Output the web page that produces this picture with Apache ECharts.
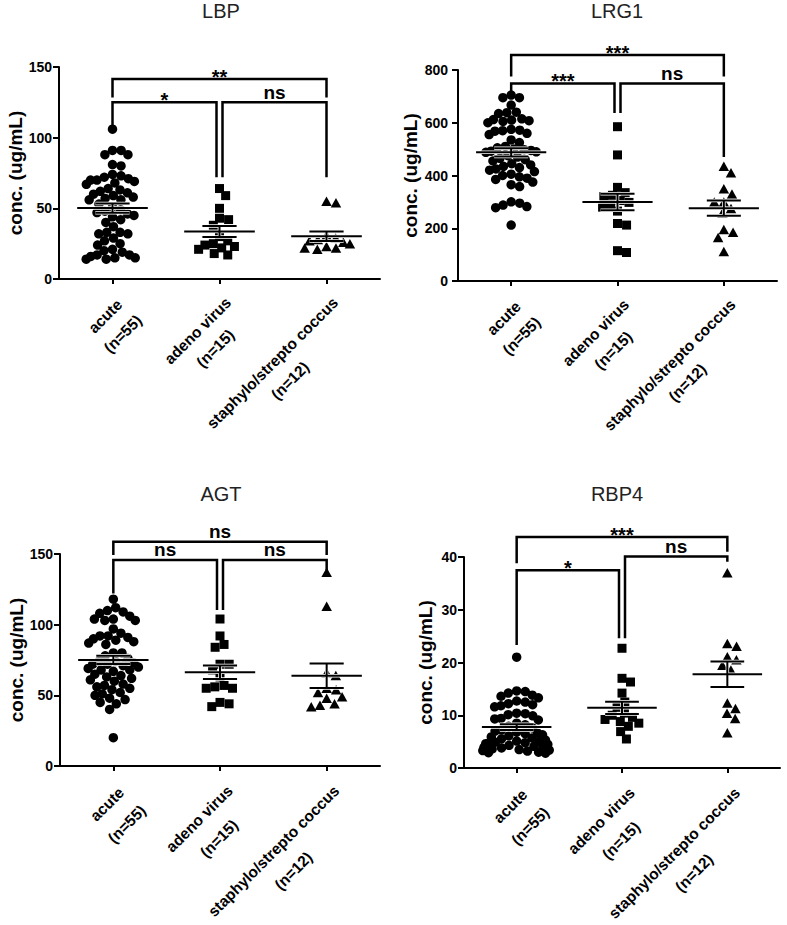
<!DOCTYPE html>
<html><head><meta charset="utf-8">
<script src="https://cdn.jsdelivr.net/npm/echarts@6/dist/echarts.min.js"></script>
<style>html,body{margin:0;padding:0;background:#fff}#c{width:787px;height:925px}</style>
</head><body><div id="c"></div>
<script>
// ---------- data ----------
const categories = ['acute\n(n=55)', 'adeno virus\n(n=15)', 'staphylo/strepto coccus\n(n=12)'];
const panelTitles = ['LBP', 'LRG1', 'AGT', 'RBP4'];
const yAxisName = 'conc. (ug/mL)';
const yMaxes = [150, 800, 150, 40];
const yIntervals = [50, 200, 50, 10];

const lbpAcute = [106, 91, 91, 88, 88, 81, 80, 74, 73, 72, 71, 70, 70, 69, 68, 67, 64, 63, 62, 61, 60, 59, 58, 57, 56, 56, 53, 51, 49, 48, 47, 46, 45, 44, 42, 40, 37, 33, 33, 32, 32, 29, 27, 25, 24, 21, 20, 19, 17, 17, 16, 15, 15, 14, 14];
const lbpAdeno = [64, 59, 50, 43, 42, 38, 30, 27, 25, 24, 23, 22, 21, 18, 17];
const lbpStaph = [55, 54, 31, 29, 28, 27, 26, 25, 23, 22, 22, 21];

const lrg1Acute = [705, 695, 695, 667, 640, 638, 635, 615, 612, 610, 608, 605, 600, 575, 572, 570, 568, 560, 555, 535, 525, 510, 505, 500, 498, 495, 492, 490, 488, 475, 470, 465, 460, 455, 445, 440, 435, 430, 425, 420, 415, 405, 400, 395, 390, 385, 375, 365, 358, 300, 295, 288, 282, 278, 212];
const lrg1Adeno = [585, 478, 355, 335, 325, 320, 305, 298, 290, 280, 265, 218, 212, 115, 108];
const lrg1Staph = [435, 410, 350, 330, 300, 300, 275, 258, 195, 185, 165, 112];

const agtAcute = [118, 112, 110, 109, 108, 106, 104, 103, 103, 104, 97, 94, 92, 91, 90, 88, 89, 92, 87, 86, 80, 80, 78, 76, 74, 72, 74, 73, 72, 71, 70, 69, 68, 67, 68, 65, 64, 63, 62, 61, 58, 56, 54, 52, 50, 51, 55, 57, 48, 47, 45, 44, 40, 20, 60];
const agtAdeno = [104, 92, 86, 84, 72, 72, 68, 63, 57, 55, 55, 56, 45, 42, 44];
const agtStaph = [137, 113, 66, 64, 55, 52, 54, 49, 48, 44, 42, 43];

const rbp4Acute = [21, 14.6, 14.2, 13.8, 13.3, 13.6, 14.5, 12.7, 12.2, 11.8, 11.6, 12.0, 12.5, 10.3, 9.9, 9.4, 9.1, 9.3, 10.1, 10.4, 8.5, 8.2, 7.9, 7.6, 7.2, 7.0, 6.8, 6.6, 6.5, 6.3, 6.1, 5.9, 5.7, 5.5, 5.3, 5.1, 5.0, 4.9, 4.8, 4.7, 4.6, 4.5, 4.3, 4.1, 4.0, 3.9, 3.8, 3.6, 3.5, 3.4, 3.3, 3.2, 3.0, 2.9, 2.8];
const rbp4Adeno = [22.7, 17, 16.3, 14.2, 12.5, 11.5, 10.4, 10.0, 9.6, 9.2, 8.8, 8.5, 7.9, 6.9, 5.5];
const rbp4Staph = [37, 23.6, 23.1, 21.1, 20.5, 19.5, 18.6, 12.3, 11.3, 10.4, 9.4, 6.7];

// significance brackets: [fromCat, toCat, barValue, leftLegEnd, rightLegEnd]
const lbpBrackets = [[0, 2, 141.5, 128.5, 128.5], [0, 1, 125, 109, 72], [1, 2, 125, 72, 72]];
const lbpBracketLabels = ['**', '*', 'ns'];
const lrg1Brackets = [[0, 2, 857, 775, 775], [0, 1, 749, 705, 637], [1, 2, 749, 637, 470]];
const lrg1BracketLabels = ['***', '***', 'ns'];
const agtBrackets = [[0, 2, 158.7, 149.3, 149.3], [0, 1, 145.8, 122, 110.4], [1, 2, 145.8, 110.4, 138.7]];
const agtBracketLabels = ['ns', 'ns', 'ns'];
const rbp4Brackets = [[0, 2, 43.8, 38.8, 41], [0, 1, 37.5, 23.3, 24.6], [1, 2, 40.1, 24.6, 39.1]];
const rbp4BracketLabels = ['***', '*', 'ns'];

// ---------- layout / style ----------
const FONT = '"Liberation Sans", Arial, sans-serif';
const panels = [
  {groups: [lbpAcute, lbpAdeno, lbpStaph], brackets: lbpBrackets, labels: lbpBracketLabels},
  {groups: [lrg1Acute, lrg1Adeno, lrg1Staph], brackets: lrg1Brackets, labels: lrg1BracketLabels},
  {groups: [agtAcute, agtAdeno, agtStaph], brackets: agtBrackets, labels: agtBracketLabels},
  {groups: [rbp4Acute, rbp4Adeno, rbp4Staph], brackets: rbp4Brackets, labels: rbp4BracketLabels}
];
const layouts = [
  {left: 59, top: 67, width: 321, height: 212, tx: 221, ty: 1, nameGap: 30, labMargin: 7},
  {left: 458, top: 70, width: 319, height: 211, tx: 617, ty: 1, nameGap: 38, labMargin: 10},
  {left: 60, top: 554, width: 320, height: 212, tx: 221, ty: 484, nameGap: 30, labMargin: 7},
  {left: 464, top: 557, width: 316, height: 211, tx: 617, ty: 484, nameGap: 29, labMargin: 7}
];
const symbols = ['circle', 'rect', 'triangle'];
const symbolSizes = [9.5, 9, [10.5, 9.5]];
const swarmDist = [8.8, 9.4, 9.8];
const spreadLimit = 36; // px, soft limit for horizontal spread

function mean(a) { return a.reduce((s, v) => s + v, 0) / a.length; }
function sem(a) {
  const m = mean(a);
  const sd = Math.sqrt(a.reduce((s, v) => s + (v - m) * (v - m), 0) / (a.length - 1));
  return sd / Math.sqrt(a.length);
}
// beeswarm horizontal offsets (pixels), computed from values
function swarm(values, pxPerUnit, d) {
  const order = values.map((v, i) => i).sort((a, b) => values[b] - values[a]);
  const placed = [];
  const out = new Array(values.length).fill(0);
  for (const i of order) {
    const y = values[i] * pxPerUnit;
    const cands = [0];
    for (const p of placed) {
      const dy = Math.abs(p.y - y);
      if (dy < d) { const dx = Math.sqrt(d * d - dy * dy); cands.push(p.x + dx, p.x - dx); }
    }
    cands.sort((a, b) => Math.abs(a) - Math.abs(b) || b - a);
    let best = 0;
    for (const c of cands) {
      if (placed.every(p => (p.x - c) * (p.x - c) + (p.y - y) * (p.y - y) >= d * d - 0.01)) { best = c; break; }
    }
    placed.push({x: best, y: y});
    out[i] = best;
  }
  return out.map(o => spreadLimit * Math.tanh(o / spreadLimit));
}

const option = {
  animation: false,
  backgroundColor: '#fff',
  title: [], grid: [], xAxis: [], yAxis: [], series: []
};

panels.forEach((p, k) => {
  const L = layouts[k];
  option.title.push({
    text: panelTitles[k], left: L.tx, top: L.ty, padding: 0, textAlign: 'center',
    textStyle: {fontFamily: FONT, fontSize: 20, fontWeight: 'normal', color: '#222'}
  });
  option.grid.push({left: L.left, top: L.top, width: L.width, height: L.height, containLabel: false, outerBoundsMode: 'none'});
  const axisLineStyle = {color: '#000', width: 2};
  option.xAxis.push({
    type: 'category', gridIndex: k, data: categories, boundaryGap: true,
    axisLine: {show: true, lineStyle: axisLineStyle, onZero: false},
    axisTick: {show: true, alignWithLabel: true, length: 5, lineStyle: {color: '#000', width: 2}},
    axisLabel: {
      interval: 0, rotate: 45, margin: 12, verticalAlign: 'top', color: '#000', hideOverlap: false,
      formatter: v => v.split('\n').map(s => '{a|' + s + '}').join('\n'),
      rich: {a: {align: 'center', fontFamily: FONT, fontSize: 15.5, fontWeight: 'bold', lineHeight: k < 2 ? 25 : 28, color: '#000'}}
    },
    splitLine: {show: false}
  });
  option.xAxis.push({type: 'value', gridIndex: k, min: -0.5, max: 2.5, show: false, splitLine: {show: false}});
  option.yAxis.push({
    type: 'value', gridIndex: k, min: 0, max: yMaxes[k], interval: yIntervals[k],
    name: yAxisName, nameLocation: 'middle', nameGap: L.nameGap,
    nameTextStyle: {fontFamily: FONT, fontSize: 19, fontWeight: 'bold', color: '#000'},
    axisLine: {show: true, onZero: false, lineStyle: axisLineStyle},
    axisTick: {show: true, length: 6, lineStyle: {color: '#000', width: 2}},
    axisLabel: {margin: L.labMargin, fontFamily: FONT, fontSize: 14, fontWeight: 'bold', color: '#000'},
    splitLine: {show: false}
  });
  const pxPerUnit = L.height / yMaxes[k];
  const catPx = L.width / 3;
  p.groups.forEach((vals, g) => {
    const off = swarm(vals, pxPerUnit, swarmDist[g]);
    option.series.push({
      type: 'scatter', xAxisIndex: 2 * k + 1, yAxisIndex: k,
      symbol: symbols[g], symbolSize: symbolSizes[g],
      itemStyle: {color: '#000', opacity: 1}, z: 2, silent: true,
      data: vals.map((v, i) => [g + off[i] / catPx, v])
    });
  });
  // mean +/- SEM
  option.series.push({
    type: 'custom', xAxisIndex: 2 * k, yAxisIndex: k, z: 4, silent: true, clip: false,
    encode: {x: 0, y: 1},
    data: p.groups.map((a, g) => [g, mean(a), sem(a)]),
    renderItem: (params, api) => {
      const c = api.value(0), m = api.value(1), s = api.value(2);
      const pm = api.coord([c, m]), pu = api.coord([c, m + s]), pl = api.coord([c, m - s]);
      const w = api.size([1, 0])[0];
      const half = w * 0.33, sh = w * 0.16;
      const mk = (x1, y1, x2, y2, col, lw) => ({type: 'line', shape: {x1, y1, x2, y2}, style: {stroke: col, lineWidth: lw}});
      const segs = [[pm[0] - half, pm[1], pm[0] + half, pm[1]], [pu[0] - sh, pu[1], pu[0] + sh, pu[1]],
                    [pl[0] - sh, pl[1], pl[0] + sh, pl[1]], [pu[0], pu[1], pl[0], pl[1]]];
      const children = [];
      segs.forEach(sg => children.push(mk(sg[0], sg[1], sg[2], sg[3], '#fff', 3.5)));
      segs.forEach(sg => children.push(mk(sg[0], sg[1], sg[2], sg[3], '#000', 2)));
      return {type: 'group', children};
    }
  });
  // significance brackets
  option.series.push({
    type: 'custom', xAxisIndex: 2 * k, yAxisIndex: k, z: 5, silent: true, clip: false,
    encode: {x: [0, 1], y: [2, 3, 4]},
    data: p.brackets,
    renderItem: (params, api) => {
      const from = api.value(0), to = api.value(1), yb = api.value(2), ya = api.value(3), yc = api.value(4);
      const label = p.labels[params.dataIndex];
      const pL = api.coord([from, yb]), pR = api.coord([to, yb]);
      const x1 = pL[0] + (from === 1 ? 3 : 0), x2 = pR[0] + (to === 1 ? -3 : 0);
      const yT = pL[1];
      const y1 = api.coord([from, ya])[1], y2 = api.coord([to, yc])[1];
      const isStar = label.indexOf('*') >= 0;
      return {type: 'group', children: [
        {type: 'polyline', shape: {points: [[x1, y1], [x1, yT], [x2, yT], [x2, y2]]},
         style: {stroke: '#000', lineWidth: 2.5, fill: null, lineJoin: 'miter'}},
        {type: 'text', x: (x1 + x2) / 2, y: yT - (isStar ? 2 : 10),
         style: {text: label, fill: '#000', font: 'bold ' + (isStar ? 20 : 19) + 'px ' + FONT,
                 align: 'center', verticalAlign: 'middle', textAlign: 'center', textVerticalAlign: 'middle'}}
      ]};
    }
  });
});

const chart = echarts.init(document.getElementById('c'), null, {renderer: 'svg', width: 787, height: 925});
chart.setOption(option);
</script>
</body></html>
